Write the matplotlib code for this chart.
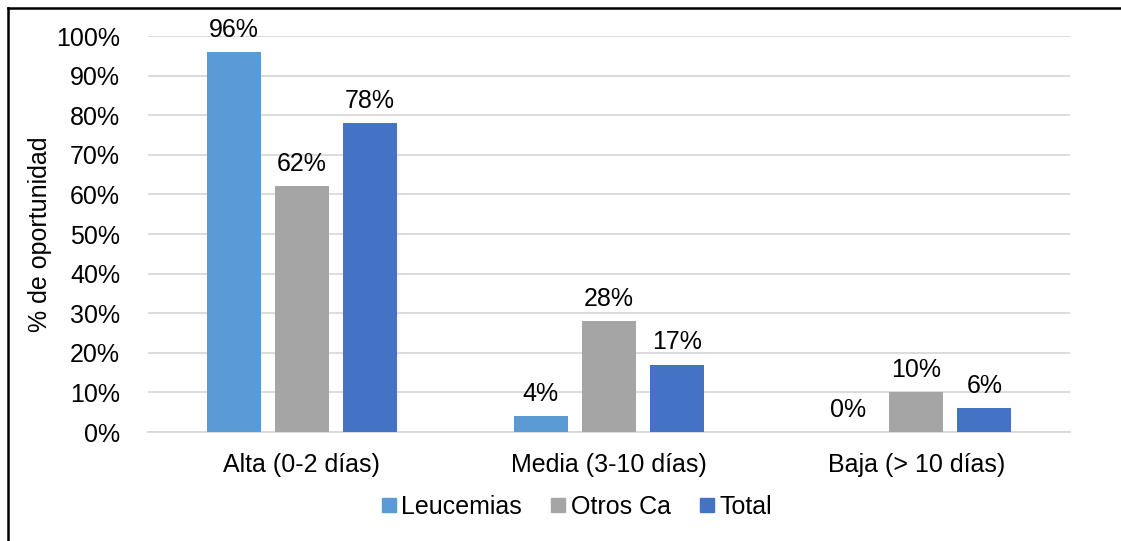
import numpy as np
import matplotlib
matplotlib.use("Agg")
import matplotlib.pyplot as plt
from matplotlib.lines import Line2D

plt.rcParams["font.family"] = ["Liberation Sans", "DejaVu Sans"]

categories = ["Alta (0-2 días)", "Media (3-10 días)", "Baja (> 10 días)"]
series_names = ["Leucemias", "Otros Ca", "Total"]
leucemias = [96, 4, 0]
otros_ca = [62, 28, 10]
total = [78, 17, 6]
colors = ["#5b9bd5", "#a5a5a5", "#4472c4"]

FS = 18

fig = plt.figure(figsize=(11.21, 5.41), dpi=100)
ax = fig.add_axes([148 / 1121, 1 - 432 / 541, (1070 - 148) / 1121, (432 - 36) / 541])

x = np.arange(len(categories))
step = 0.2215
width = 0.176
for i, (vals, name, c) in enumerate(zip([leucemias, otros_ca, total], series_names, colors)):
    pos = x + (i - 1) * step
    ax.bar(pos, vals, width=width, color=c, label=name, zorder=3)
    for px, v in zip(pos, vals):
        ax.text(px, v + 2.6, f"{v}%", ha="center", va="bottom", fontsize=FS)

ax.set_xlim(-0.5, 2.5)
ax.set_ylim(0, 100)
ax.set_yticks(np.arange(0, 101, 10))
ax.set_yticklabels([f"{t}%" for t in range(0, 101, 10)], fontsize=FS)
ax.set_xticks(x)
ax.set_xticklabels(categories, fontsize=FS)
ax.tick_params(axis="both", length=0)
ax.tick_params(axis="y", pad=20)
ax.tick_params(axis="x", pad=15)
ax.grid(axis="y", color="#d9d9d9", lw=1.3, zorder=0)
for s in ["top", "right", "left"]:
    ax.spines[s].set_visible(False)
ax.spines["bottom"].set_color("#d9d9d9")
ax.spines["bottom"].set_linewidth(1.3)

ax.set_ylabel("% de oportunidad", fontsize=FS, labelpad=3)

handles = [Line2D([], [], marker="s", ls="", markersize=10, color=c) for c in colors]
fig.legend(handles, series_names, loc="center", bbox_to_anchor=(575 / 1121, 1 - 507 / 541),
           ncol=3, frameon=False, fontsize=FS, handletextpad=0.05, columnspacing=1.0,
           handlelength=0.9)

# frame around the figure
fig.add_artist(Line2D([8 / 1121, 8 / 1121], [0, 1 - 8 / 541], transform=fig.transFigure,
                      color="black", lw=1.8))
fig.add_artist(Line2D([8 / 1121, 1], [1 - 8 / 541, 1 - 8 / 541], transform=fig.transFigure,
                      color="black", lw=1.8))

fig.savefig("out.png", dpi=100)
